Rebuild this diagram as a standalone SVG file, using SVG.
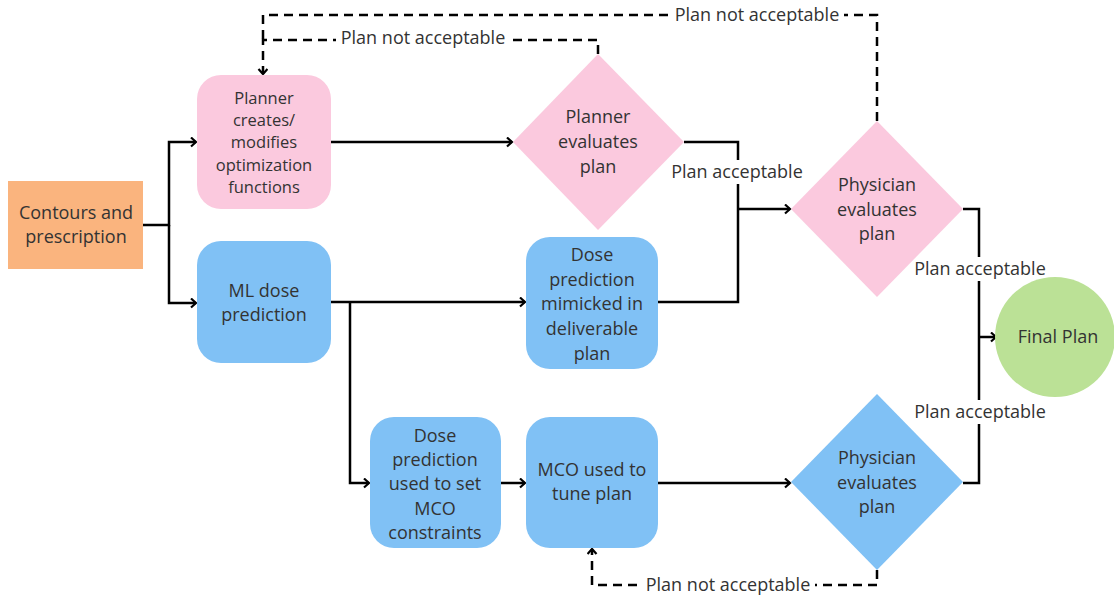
<svg xmlns="http://www.w3.org/2000/svg" width="1114" height="596" viewBox="0 0 1114 596">
<style>
text{font-family:"Open Sans","Noto Sans","Liberation Sans",sans-serif;font-size:18px;fill:#333;text-anchor:middle;dominant-baseline:central}
.sm{font-size:16.5px}
.ln{fill:none;stroke:#000;stroke-width:2.5}
.dash{stroke-dasharray:9 6}
.pink{fill:#fbc9de}
.blue{fill:#80c1f5}
.lbg{fill:#fff}
</style>
<defs>
<marker id="arr" markerUnits="userSpaceOnUse" markerWidth="12" markerHeight="12" refX="6" refY="5" orient="auto">
<path d="M1,0.5 L6,5 L1,9.5" fill="none" stroke="#000" stroke-width="2.2"/>
</marker>
</defs>
<g id="connectors">
<path class="ln" d="M143,225 H169 V142 H196" marker-end="url(#arr)"/>
<path class="ln" d="M169,225 V303 H196" marker-end="url(#arr)"/>
<path class="ln" d="M331,142 H512" marker-end="url(#arr)"/>
<path class="ln" d="M331,302 H525" marker-end="url(#arr)"/>
<path class="ln" d="M350,302 V483 H369" marker-end="url(#arr)"/>
<path class="ln" d="M501,483 H525" marker-end="url(#arr)"/>
<path class="ln" d="M658,483 H790" marker-end="url(#arr)"/>
<path class="ln" d="M684,142 H738 V302 H658"/>
<path class="ln" d="M738,209 H790" marker-end="url(#arr)"/>
<path class="ln" d="M963,209 H979 V483 H963"/>
<path class="ln" d="M979,337 H996" marker-end="url(#arr)"/>
<path class="ln dash" d="M598,54 V40 H263 V74" marker-end="url(#arr)"/>
<path class="ln dash" d="M877,121 V15 H263 V40"/>
<path class="ln dash" d="M877,570 V585 H592 V549" marker-end="url(#arr)"/>
<rect class="lbg" x="670" y="160" width="135" height="24"/>
<text x="737" y="171">Plan acceptable</text>
<rect class="lbg" x="912" y="257" width="136" height="24"/>
<text x="980" y="268">Plan acceptable</text>
<rect class="lbg" x="912" y="400" width="136" height="24"/>
<text x="980" y="411">Plan acceptable</text>
<rect class="lbg" x="670" y="3" width="174" height="24"/>
<text x="757" y="14">Plan not acceptable</text>
<rect class="lbg" x="336" y="28" width="173" height="24"/>
<text x="423" y="37">Plan not acceptable</text>
<rect class="lbg" x="641" y="573" width="174" height="24"/>
<text x="728" y="584">Plan not acceptable</text>
</g>
<g id="contours">
<rect x="8" y="181" width="135" height="88" fill="#fab47e"/>
<text x="76" y="212">Contours and</text>
<text x="76" y="236">prescription</text>
</g>
<g id="planner-creates">
<rect class="pink" x="197" y="75" width="134" height="134" rx="24"/>
<text class="sm" x="264" y="97">Planner</text>
<text class="sm" x="264" y="119">creates/</text>
<text class="sm" x="264" y="141">modifies</text>
<text class="sm" x="264" y="164">optimization</text>
<text class="sm" x="264" y="186">functions</text>
</g>
<g id="ml-dose">
<rect class="blue" x="197" y="241" width="134" height="122" rx="24"/>
<text x="264" y="290">ML dose</text>
<text x="264" y="314">prediction</text>
</g>
<g id="planner-evaluates">
<polygon class="pink" points="598,54 684,142 598,230 513,142"/>
<text x="598" y="116">Planner</text>
<text x="598" y="141">evaluates</text>
<text x="598" y="166">plan</text>
</g>
<g id="dose-mimicked">
<rect class="blue" x="526" y="237" width="132" height="132" rx="24"/>
<text x="592" y="254">Dose</text>
<text x="592" y="279">prediction</text>
<text x="592" y="303">mimicked in</text>
<text x="592" y="328">deliverable</text>
<text x="592" y="353">plan</text>
</g>
<g id="physician-evaluates-pink">
<polygon class="pink" points="877,121 963,209 877,297 791,209"/>
<text x="877" y="184">Physician</text>
<text x="877" y="209">evaluates</text>
<text x="877" y="233">plan</text>
</g>
<g id="dose-used">
<rect class="blue" x="370" y="417" width="131" height="131" rx="24"/>
<text x="435" y="435">Dose</text>
<text x="435" y="459">prediction</text>
<text x="435" y="483">used to set</text>
<text x="435" y="508">MCO</text>
<text x="435" y="532">constraints</text>
</g>
<g id="mco">
<rect class="blue" x="526" y="417" width="132" height="131" rx="24"/>
<text x="592" y="469">MCO used to</text>
<text x="592" y="493">tune plan</text>
</g>
<g id="physician-evaluates-blue">
<polygon class="blue" points="877,394 963,482 877,570 791,482"/>
<text x="877" y="457">Physician</text>
<text x="877" y="482">evaluates</text>
<text x="877" y="506">plan</text>
</g>
<g id="final-plan">
<circle cx="1055" cy="337" r="60" fill="#bbe196"/>
<text x="1058" y="336">Final Plan</text>
</g>
</svg>
